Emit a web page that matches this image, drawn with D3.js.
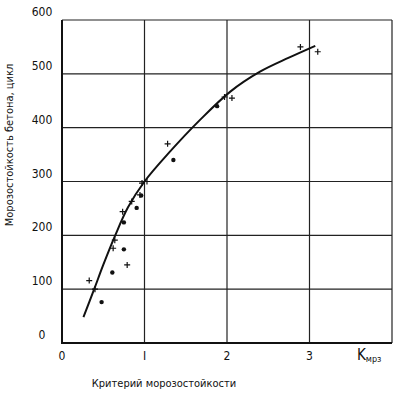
<!DOCTYPE html>
<html>
<head>
<meta charset="utf-8">
<script src="https://cdn.jsdelivr.net/npm/d3@7"></script>
<style>
  body { margin: 0; background: #fff; }
  svg text { font-family: "DejaVu Sans Condensed", "DejaVu Sans", sans-serif; fill: #111; }
</style>
</head>
<body>
<svg id="chart" width="402" height="396"></svg>
<script>
// ticks
var xTicks = [0, 1, 2, 3, 4];
var xTickLabels = ["0", "I", "2", "3", ""];
var yTicks = [0, 100, 200, 300, 400, 500, 600];

// fitted curve
var curveX = [0.26, 0.39, 0.5, 0.64, 0.8, 1.0, 1.3, 1.67, 2.04, 2.4, 2.75, 3.07];
var curveY = [48, 100, 145, 198, 252, 300, 354, 414, 467, 504, 530, 552];

// measured points, plus markers
var plusX = [0.33, 0.40, 0.62, 0.64, 0.79, 0.735, 0.845, 0.945, 0.97, 1.03, 1.28, 1.97, 2.06, 2.89, 3.10];
var plusY = [116, 100, 176, 191, 145, 244, 263, 275, 297, 300, 370, 457, 455, 550, 541];

// measured points, dot markers
var dotX = [0.48, 0.61, 0.75, 0.75, 0.905, 0.96, 1.35, 1.88];
var dotY = [76, 131, 174, 224, 251, 274, 340, 440];

var margin = {top: 20, right: 10, bottom: 53, left: 62},
    width = 402, height = 396;

var svg = d3.select("#chart");

var x = d3.scaleLinear().domain([0, 4]).range([margin.left, width - margin.right]);
var y = d3.scaleLinear().domain([0, 600]).range([height - margin.bottom, margin.top]);

// grid
var g = svg.append("g").attr("stroke", "#222").attr("stroke-width", 1.2);
g.selectAll(".vg").data(xTicks).enter().append("line")
    .attr("x1", function(d) { return x(d); })
    .attr("x2", function(d) { return x(d); })
    .attr("y1", y(0)).attr("y2", y(600));
g.selectAll(".hg").data(yTicks).enter().append("line")
    .attr("y1", function(d) { return y(d); })
    .attr("y2", function(d) { return y(d); })
    .attr("x1", x(0)).attr("x2", x(4));

// heavier frame on left and bottom
svg.append("path")
    .attr("d", "M" + x(0) + "," + y(600) + "V" + y(0) + "H" + x(4))
    .attr("fill", "none").attr("stroke", "#111").attr("stroke-width", 2);

// tick labels
svg.selectAll(".yl").data(yTicks).enter().append("text")
    .attr("x", 42).attr("y", function(d) { return y(d) - 4; })
    .attr("text-anchor", "middle").attr("font-size", 12)
    .text(function(d) { return d; });

svg.selectAll(".xl").data(xTicks).enter().append("text")
    .attr("x", function(d) { return x(d); }).attr("y", 360)
    .attr("text-anchor", "middle").attr("font-size", 12)
    .text(function(d, i) { return xTickLabels[i]; });

var k = svg.append("text").attr("x", 357).attr("y", 360).attr("font-size", 15);
k.append("tspan").text("K");
k.append("tspan").attr("font-size", 9).attr("dy", 2).text("мрз");

svg.append("text")
    .attr("x", 164).attr("y", 387).attr("text-anchor", "middle").attr("font-size", 11)
    .text("Критерий морозостойкости");

svg.append("text")
    .attr("transform", "translate(13,145) rotate(-90)")
    .attr("text-anchor", "middle").attr("font-size", 11)
    .text("Морозостойкость бетона, цикл");

// curve
var curve = curveX.map(function(d, i) { return [d, curveY[i]]; });
svg.append("path")
    .datum(curve)
    .attr("fill", "none").attr("stroke", "#111").attr("stroke-width", 2)
    .attr("d", d3.line().curve(d3.curveCatmullRom)
        .x(function(d) { return x(d[0]); })
        .y(function(d) { return y(d[1]); }));

// plus markers
var plus = plusX.map(function(d, i) { return [d, plusY[i]]; });
svg.selectAll(".plus").data(plus).enter().append("path")
    .attr("transform", function(d) { return "translate(" + x(d[0]) + "," + y(d[1]) + ")"; })
    .attr("d", "M-3,0H3M0,-3V3")
    .attr("stroke", "#111").attr("stroke-width", 1.2);

// dot markers
var dots = dotX.map(function(d, i) { return [d, dotY[i]]; });
svg.selectAll(".dot").data(dots).enter().append("circle")
    .attr("cx", function(d) { return x(d[0]); })
    .attr("cy", function(d) { return y(d[1]); })
    .attr("r", 2.2).attr("fill", "#111");
</script>
</body>
</html>
